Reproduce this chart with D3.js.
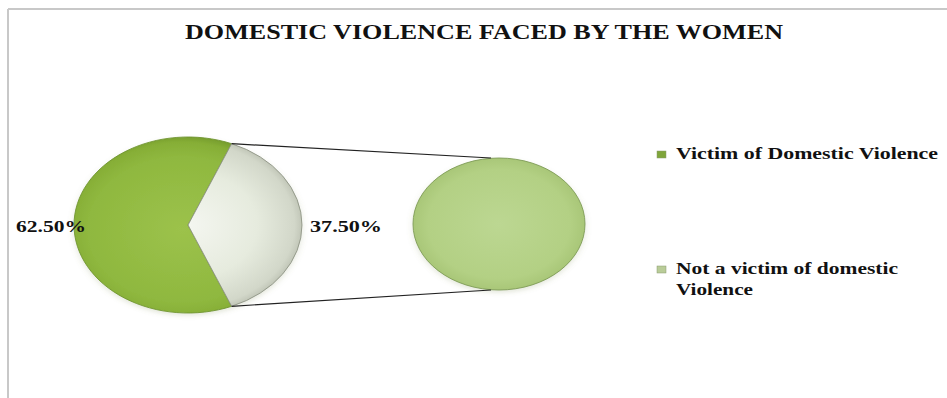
<!DOCTYPE html>
<html>
<head>
<meta charset="utf-8">
<script src="https://cdnjs.cloudflare.com/ajax/libs/d3/7.8.5/d3.min.js"></script>
<style>
  body { margin: 0; background: #fff; }
</style>
</head>
<body>
<div id="chart"></div>
<script>
const title = "DOMESTIC VIOLENCE FACED BY THE WOMEN";
const categories = ["Victim of Domestic Violence", "Not a victim of domestic Violence"];
const values = [62.5, 37.5];
const pctLabels = ["62.50%", "37.50%"];
// second pie holds the split-off slice
const secondValues = [37.5];

const width = 947, height = 398;
const serif = '"Liberation Serif", "Times New Roman", serif';

const svg = d3.select('#chart').append('svg')
  .attr('width', width).attr('height', height);

const defs = svg.append('defs');

function radial(id, stops, r, ox, oy) {
  const g = defs.append('radialGradient')
    .attr('id', id).attr('gradientUnits', 'userSpaceOnUse')
    .attr('cx', ox * r).attr('cy', oy * r).attr('r', r * 1.1);
  stops.forEach(s => g.append('stop').attr('offset', s[0]).attr('stop-color', s[1]));
}

const r1 = 114, ky1 = 88 / 114;
const r2 = 86, ky2 = 66 / 86;
const c1 = [188, 225], c2 = [499, 224];

radial('gGreen', [[0, '#9cc24b'], [0.75, '#8fb83f'], [0.9, '#86ae36'], [0.97, '#759c2c'], [1, '#638624']], r1, -0.05, 0.05);
radial('gLight', [[0, '#f4f6f0'], [0.55, '#e6ebde'], [0.85, '#d2d7c9'], [1, '#a8ad9e']], r1, 0, 0);
radial('gSecond', [[0, '#bcd792'], [0.75, '#b3d084'], [0.92, '#a8c677'], [1, '#829e58']], r2, 0, 0);

const shadow = defs.append('filter').attr('id', 'shadow')
  .attr('x', '-20%').attr('y', '-20%').attr('width', '140%').attr('height', '150%');
shadow.append('feDropShadow').attr('dx', 0).attr('dy', 3).attr('stdDeviation', 3)
  .attr('flood-color', '#7a8a50').attr('flood-opacity', 0.2);

// frame
svg.append('line').attr('x1', 8).attr('y1', 9).attr('x2', width).attr('y2', 9)
  .attr('stroke', '#c8c8c8').attr('stroke-width', 2);
svg.append('line').attr('x1', 8).attr('y1', 9).attr('x2', 8).attr('y2', height)
  .attr('stroke', '#c8c8c8').attr('stroke-width', 2);

function label(x, y, txt, size, len) {
  return svg.append('text')
    .attr('x', x).attr('y', y)
    .attr('font-family', serif).attr('font-weight', 'bold')
    .attr('font-size', size).attr('fill', '#111')
    .attr('textLength', len).attr('lengthAdjust', 'spacingAndGlyphs')
    .text(txt);
}

// title
label(185, 39, title, 21, 598);

// main pie
const toRad = Math.PI / 180;
const pie = d3.pie().sort(null)
  .startAngle(157.5 * toRad).endAngle(517.5 * toRad);
const arcs = pie(values);
const arc1 = d3.arc().innerRadius(0).outerRadius(r1);

const main = svg.append('g')
  .attr('transform', `translate(${c1[0]},${c1[1]}) scale(1,${ky1})`)
  .attr('filter', 'url(#shadow)');
main.selectAll('path').data(arcs).enter().append('path')
  .attr('d', arc1)
  .attr('fill', (d, i) => i === 0 ? 'url(#gGreen)' : 'url(#gLight)')
  .attr('stroke', (d, i) => i === 0 ? '#6f9430' : '#8f9585')
  .attr('stroke-width', 1);

// second pie
const arcs2 = d3.pie().sort(null)(secondValues);
const arc2 = d3.arc().innerRadius(0).outerRadius(r2);
const second = svg.append('g')
  .attr('transform', `translate(${c2[0]},${c2[1]}) scale(1,${ky2})`)
  .attr('filter', 'url(#shadow)');
second.selectAll('path').data(arcs2).enter().append('path')
  .attr('d', arc2)
  .attr('fill', 'url(#gSecond)')
  .attr('stroke', '#7d9a55').attr('stroke-width', 1);

// connector lines from the split slice to the second pie
const split = arcs[1];
const pt = a => [c1[0] + r1 * Math.sin(a), c1[1] - r1 * ky1 * Math.cos(a)];
const pTop = pt(split.startAngle), pBot = pt(split.endAngle);
svg.append('line')
  .attr('x1', pTop[0]).attr('y1', pTop[1])
  .attr('x2', c2[0] - 8).attr('y2', c2[1] - r2 * ky2)
  .attr('stroke', '#222').attr('stroke-width', 1.2);
svg.append('line')
  .attr('x1', pBot[0]).attr('y1', pBot[1])
  .attr('x2', c2[0] - 8).attr('y2', c2[1] + r2 * ky2)
  .attr('stroke', '#222').attr('stroke-width', 1.2);

// data labels
label(16, 232, pctLabels[0], 17.5, 70);
label(310, 232, pctLabels[1], 17.5, 72);

// legend
const legendY = [159, 274];
const legendLines = [[categories[0]], ["Not a victim of domestic", "Violence"]];
const legendLens = [[262], [222, 77]];
const legendFill = ['#7fa53a', '#b9cc98'];
legendLines.forEach((lines, i) => {
  svg.append('rect')
    .attr('x', 657).attr('y', legendY[i] - 8)
    .attr('width', 9).attr('height', 7)
    .attr('fill', legendFill[i]).attr('stroke', '#8a9a70').attr('stroke-width', 0.5);
  lines.forEach((l, j) => label(676, legendY[i] + j * 21, l, 16.5, legendLens[i][j]));
});
</script>
</body>
</html>
